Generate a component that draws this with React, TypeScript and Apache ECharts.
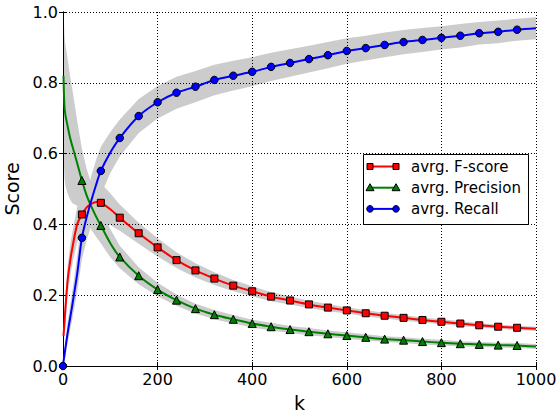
import React, { useEffect, useRef } from "react";
import * as echarts from "echarts";

const ks = [0, 1, 3, 5, 10, 15, 20, 30, 40, 50, 60, 70, 80, 100, 120, 160, 200, 240, 280, 320, 360, 400, 440, 480, 520, 560, 600, 640, 680, 720, 760, 800, 840, 880, 920, 960, 1000];

const fscore = [null, 0.085, 0.12, 0.16, 0.245, 0.295, 0.335, 0.40, 0.428, 0.448, 0.458, 0.463, 0.461, 0.443, 0.419, 0.375, 0.335, 0.299, 0.270, 0.247, 0.227, 0.211, 0.196, 0.185, 0.174, 0.165, 0.157, 0.149, 0.142, 0.136, 0.130, 0.125, 0.120, 0.115, 0.111, 0.108, 0.105];
const precision = [null, 0.82, 0.735, 0.71, 0.676, 0.645, 0.62, 0.573, 0.524, 0.482, 0.45, 0.422, 0.397, 0.347, 0.308, 0.255, 0.216, 0.186, 0.162, 0.145, 0.132, 0.120, 0.111, 0.103, 0.097, 0.091, 0.086, 0.081, 0.076, 0.073, 0.069, 0.066, 0.063, 0.061, 0.059, 0.058, 0.055];
const recall = [0, 0.012, 0.03, 0.05, 0.095, 0.135, 0.175, 0.26, 0.362, 0.42, 0.468, 0.512, 0.551, 0.603, 0.644, 0.706, 0.745, 0.772, 0.789, 0.808, 0.820, 0.831, 0.845, 0.856, 0.867, 0.878, 0.890, 0.898, 0.907, 0.915, 0.921, 0.927, 0.933, 0.940, 0.944, 0.950, 0.954];

const fscoreSpread = [null, 0.03, 0.035, 0.04, 0.04, 0.045, 0.045, 0.05, 0.055, 0.06, 0.062, 0.06, 0.055, 0.045, 0.037, 0.03, 0.026, 0.022, 0.02, 0.018, 0.016, 0.014, 0.013, 0.011, 0.010, 0.010, 0.009, 0.009, 0.008, 0.008, 0.007, 0.007, 0.007, 0.006, 0.006, 0.006, 0.006];
const precisionSpread = [null, 0.2, 0.2, 0.2, 0.19, 0.175, 0.16, 0.12, 0.09, 0.075, 0.065, 0.057, 0.05, 0.04, 0.032, 0.024, 0.019, 0.016, 0.014, 0.013, 0.012, 0.011, 0.011, 0.010, 0.010, 0.009, 0.009, 0.009, 0.008, 0.008, 0.008, 0.008, 0.007, 0.007, 0.007, 0.007, 0.007];
const recallSpread = [0, 0.01, 0.015, 0.02, 0.03, 0.035, 0.04, 0.05, 0.06, 0.065, 0.07, 0.07, 0.068, 0.058, 0.052, 0.048, 0.046, 0.045, 0.044, 0.043, 0.042, 0.041, 0.04, 0.039, 0.038, 0.037, 0.036, 0.035, 0.035, 0.034, 0.034, 0.033, 0.033, 0.032, 0.032, 0.031, 0.031];

const xTicks = { min: 0, max: 1000, interval: 200 };
const yTicks = { min: 0, max: 1, interval: 0.2 };

const seriesDefs = [
  { name: "avrg. F-score", values: fscore, spread: fscoreSpread, color: "#ff0000", symbol: "rect", size: 7 },
  { name: "avrg. Precision", values: precision, spread: precisionSpread, color: "#008000", symbol: "triangle", size: 8 },
  { name: "avrg. Recall", values: recall, spread: recallSpread, color: "#0000ff", symbol: "circle", size: 7.5 },
];

const FONT = '"DejaVu Sans", sans-serif';

export default function App() {
  const ref = useRef<HTMLDivElement>(null);
  useEffect(() => {
    document.body.style.margin = "0";
    const chart = echarts.init(ref.current!, null, { renderer: "svg" });

    const bands: any[] = [];
    const lines: any[] = [];
    seriesDefs.forEach((d) => {
      const bandData: any[] = [];
      const pts: any[] = [];
      ks.forEach((k, i) => {
        const v = d.values[i];
        const s = d.spread[i];
        if (v == null || s == null) return;
        bandData.push([k, v - s, v + s]);
        pts.push([k, v]);
      });
      bands.push({
        type: "custom",
        data: bandData,
        encode: { x: 0, y: [1, 2] },
        clip: true,
        silent: true,
        z: 1,
        renderItem: (params: any, api: any) => {
          if (params.dataIndex !== 0) return null;
          const upper = bandData.map((p) => api.coord([p[0], p[2]]));
          const lower = bandData.map((p) => api.coord([p[0], p[1]])).reverse();
          return {
            type: "polygon",
            shape: { points: upper.concat(lower) },
            style: { fill: "#cccccc", stroke: "none" },
          };
        },
      });
      lines.push({
        type: "line",
        name: d.name,
        data: pts,
        smooth: 0.3,
        showSymbol: true,
        symbol: (val: any) => (val[0] % 40 === 0 && val[0] < 1000 ? d.symbol : "none"),
        symbolSize: d.size,
        lineStyle: { color: d.color, width: 2 },
        itemStyle: { color: d.color, borderColor: "#000", borderWidth: 1 },
        z: 3,
      });
    });

    const legendX = 363.5;
    const legendY = 154.5;
    const legendItems: any[] = [
      {
        type: "rect",
        shape: { x: legendX, y: legendY, width: 165, height: 70 },
        style: { fill: "#fff", stroke: "#000", lineWidth: 1 },
        z: 100,
      },
    ];
    seriesDefs.forEach((d, i) => {
      const y = 166.5 + i * 21.2;
      legendItems.push({
        type: "line",
        shape: { x1: 370, y1: y, x2: 396, y2: y },
        style: { stroke: d.color, lineWidth: 2 },
        z: 101,
      });
      [370, 396].forEach((x) => {
        if (d.symbol === "rect") {
          legendItems.push({
            type: "rect",
            shape: { x: x - 3, y: y - 3, width: 6, height: 6 },
            style: { fill: d.color, stroke: "#000", lineWidth: 1 },
            z: 102,
          });
        } else if (d.symbol === "triangle") {
          legendItems.push({
            type: "polygon",
            shape: { points: [[x, y - 4], [x - 4, y + 3], [x + 4, y + 3]] },
            style: { fill: d.color, stroke: "#000", lineWidth: 1 },
            z: 102,
          });
        } else {
          legendItems.push({
            type: "circle",
            shape: { cx: x, cy: y, r: 3.3 },
            style: { fill: d.color, stroke: "#000", lineWidth: 1 },
            z: 102,
          });
        }
      });
      legendItems.push({
        type: "text",
        x: 411,
        y: y,
        style: {
          text: d.name,
          fontSize: 15,
          fontFamily: FONT,
          fill: "#000",
          verticalAlign: "middle",
          align: "left",
        },
        z: 102,
      });
    });

    const axisCommon = {
      z: 2,
      axisLine: { show: true, lineStyle: { color: "#000", width: 1 } },
      axisTick: { show: true, inside: true, length: 4, lineStyle: { color: "#000" } },
    };

    chart.setOption({
      animation: false,
      backgroundColor: "#fff",
      grid: { left: 63, right: 24, top: 12, bottom: 49, containLabel: false, outerBoundsMode: "none" },
      xAxis: [
        {
          type: "value",
          ...xTicks,
          ...axisCommon,
          name: "k",
          nameLocation: "middle",
          nameGap: 27,
          nameTextStyle: { fontSize: 19, fontFamily: FONT, color: "#000", verticalAlign: "top" },
          axisLabel: {
            fontSize: 16,
            fontFamily: FONT,
            color: "#000",
            margin: 5,
            formatter: (v: number) => String(v),
          },
          splitLine: { show: true, lineStyle: { color: "#000", type: [1, 2], width: 1 } },
        },
        {
          type: "value",
          position: "top",
          ...xTicks,
          ...axisCommon,
          axisLabel: { show: false },
          splitLine: { show: false },
        },
      ],
      yAxis: [
        {
          type: "value",
          ...yTicks,
          ...axisCommon,
          name: "Score",
          nameLocation: "middle",
          nameGap: 35,
          nameRotate: 90,
          nameTextStyle: { fontSize: 19, fontFamily: FONT, color: "#000" },
          axisLabel: {
            fontSize: 16,
            fontFamily: FONT,
            color: "#000",
            margin: 5,
            formatter: (v: number) => v.toFixed(1),
          },
          splitLine: { show: true, lineStyle: { color: "#000", type: [1, 2], width: 1 } },
        },
        {
          type: "value",
          position: "right",
          ...yTicks,
          ...axisCommon,
          axisLabel: { show: false },
          splitLine: { show: false },
        },
      ],
      series: [...bands, ...lines],
      graphic: legendItems,
    });

    return () => chart.dispose();
  }, []);

  return <div ref={ref} style={{ width: 560, height: 415 }} />;
}
